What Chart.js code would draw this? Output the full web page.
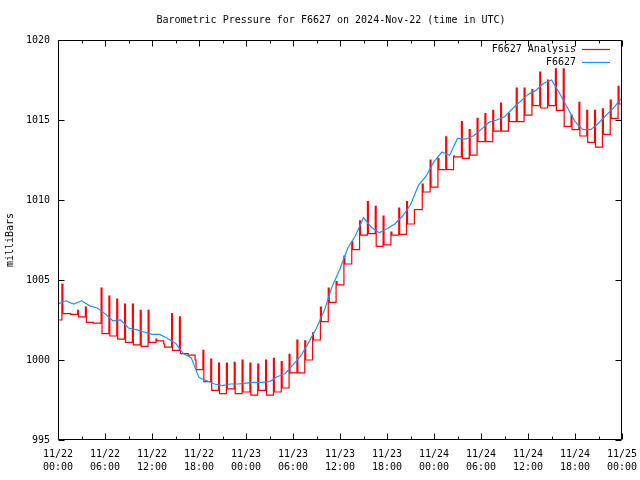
<!DOCTYPE html>
<html>
<head>
<meta charset="utf-8">
<script src="https://cdn.jsdelivr.net/npm/chart.js@4.4.1/dist/chart.umd.min.js"></script>
<style>
  html, body { margin: 0; padding: 0; background: #fff; }
  #wrap { width: 640px; height: 480px; }
</style>
</head>
<body>
<div id="wrap"><canvas id="pressureChart" width="640" height="480"></canvas></div>
<script>
// Station readings, one per hour from 11/22 00:00 to 11/25 00:00 (mb)
const stationHourly = [
  1003.5, 1003.7, 1003.5, 1003.7, 1003.4, 1003.25, 1002.9, 1002.45, 1002.5, 1002.0,
  1001.9, 1001.75, 1001.6, 1001.6, 1001.35, 1001.05, 1000.4, 1000.15, 998.9, 998.7,
  998.5, 998.4, 998.5, 998.5, 998.55, 998.6, 998.6, 998.65, 998.95, 999.15,
  999.7, 1000.25, 1001.1, 1002.0, 1003.1, 1004.6, 1005.7, 1007.0, 1007.8, 1008.9,
  1008.3, 1007.95, 1008.2, 1008.5, 1009.0, 1009.7, 1010.9, 1011.5, 1012.4, 1013.0,
  1012.8, 1013.85, 1013.8, 1014.0, 1014.4, 1014.85, 1015.0, 1015.2, 1015.7, 1016.15,
  1016.6, 1016.85, 1017.3, 1017.5, 1016.7, 1015.8, 1014.9, 1014.4, 1014.4, 1014.8,
  1015.3, 1015.8, 1016.4
];

// Analysis: value it jumps to at half past each hour, then where it settles
const analysisStart = 1002.5;
const analysisPeak = [
  1004.75, 1002.9, 1003.1, 1003.3, 1002.3, 1004.5, 1004.0, 1003.8, 1003.5, 1003.5,
  1003.1, 1003.1, 1001.3, 1001.0, 1002.9, 1002.7, 1000.4, 1000.0, 1000.6, 1000.05,
  999.8, 999.8, 999.85, 1000.0, 999.8, 999.75, 1000.0, 1000.1, 999.9, 1000.35,
  1001.25, 1001.2, 1001.7, 1003.3, 1004.5, 1004.9, 1006.5, 1007.4, 1008.7, 1009.9,
  1009.6, 1009.0, 1008.0, 1009.5, 1009.9, 1009.4, 1011.0, 1012.5, 1012.6, 1013.95,
  1012.75, 1014.9, 1014.4, 1015.1, 1015.4, 1015.6, 1016.05, 1015.4, 1017.0, 1017.0,
  1016.9, 1018.0, 1017.5, 1018.2, 1018.2, 1015.3, 1016.1, 1015.6, 1015.6, 1015.7,
  1016.25, 1017.1
];
const analysisLow = [
  1002.9, 1002.85, 1002.7, 1002.35, 1002.3, 1001.65, 1001.5, 1001.3, 1001.1, 1000.95,
  1000.85, 1001.1, 1001.2, 1000.8, 1000.6, 1000.4, 1000.3, 999.4, 998.65, 998.1,
  997.9, 998.2, 997.9, 998.0, 997.8, 998.1, 997.8, 998.0, 998.25, 999.2,
  999.2, 1000.0, 1001.25, 1002.4, 1003.6, 1004.7, 1006.0, 1006.9, 1007.8, 1007.9,
  1007.1, 1007.2, 1007.8, 1007.85, 1008.5, 1009.4, 1010.5, 1010.8, 1011.9, 1011.9,
  1012.7, 1012.6, 1012.8, 1013.65, 1013.65, 1014.3, 1014.3, 1014.9, 1014.9, 1015.3,
  1015.9, 1015.75, 1015.9, 1015.6, 1014.6, 1014.4, 1014.0, 1013.6, 1013.3, 1014.1,
  1015.1, 1016.0
];
const analysisEnd = 1016.0;

// Tick labels for the time axis (every 6 hours) and the pressure axis
const tickDates = ['11/22', '11/22', '11/22', '11/22', '11/23', '11/23', '11/23',
                   '11/23', '11/24', '11/24', '11/24', '11/24', '11/25'];
const tickTimes = ['00:00', '06:00', '12:00', '18:00', '00:00', '06:00', '12:00',
                   '18:00', '00:00', '06:00', '12:00', '18:00', '00:00'];
const pressureTicks = [995, 1000, 1005, 1010, 1015, 1020];

const MONO = '"DejaVu Sans Mono", "Liberation Mono", monospace';

// Build point lists (x = hours since 11/22 00:00)
const stationPoints = stationHourly.map((v, i) => ({ x: i, y: v }));
const analysisPoints = [{ x: 0, y: analysisStart }];
analysisPeak.forEach((p, h) => {
  analysisPoints.push({ x: h + 0.5, y: p });
  analysisPoints.push({ x: h + 0.62, y: analysisLow[h] });
});
analysisPoints.push({ x: 72, y: analysisEnd });

// Frame, inward tick marks, title and legend (gnuplot style)
const framePlugin = {
  id: 'frame',
  afterDatasetsDraw(chart) {
    const ctx = chart.ctx;
    const area = chart.chartArea;
    const xs = chart.scales.x;
    const ys = chart.scales.y;
    const L = Math.round(area.left) + 0.5, R = Math.round(area.right) - 0.5;
    const T = Math.round(area.top) + 0.5, B = Math.round(area.bottom) - 0.5;
    ctx.save();
    ctx.strokeStyle = '#000';
    ctx.lineWidth = 1;
    ctx.beginPath();
    ctx.rect(L, T, R - L, B - T);
    // pressure ticks, left and right
    pressureTicks.forEach(v => {
      const y = Math.round(ys.getPixelForValue(v)) + 0.5;
      ctx.moveTo(L, y); ctx.lineTo(L + 6, y);
      ctx.moveTo(R, y); ctx.lineTo(R - 6, y);
    });
    // time ticks every 3 hours, longer on the 6-hourly ones
    for (let h = 0; h <= 72; h += 3) {
      const x = Math.round(xs.getPixelForValue(h)) + 0.5;
      const len = h % 6 === 0 ? 6 : 3;
      ctx.moveTo(x, B); ctx.lineTo(x, B - len);
      ctx.moveTo(x, T); ctx.lineTo(x, T + len);
    }
    ctx.stroke();

    // title
    ctx.fillStyle = '#000';
    ctx.font = '10px ' + MONO;
    ctx.textAlign = 'center';
    ctx.textBaseline = 'middle';
    ctx.fillText('Barometric Pressure for F6627 on 2024-Nov-22 (time in UTC)', 331, 20);

    // legend
    const entries = [
      { text: 'F6627 Analysis', color: '#ff0000', y: 49 },
      { text: 'F6627', color: '#1e90ff', y: 62 }
    ];
    ctx.textAlign = 'right';
    entries.forEach(e => {
      ctx.fillStyle = '#000';
      ctx.fillText(e.text, 576, e.y);
      ctx.beginPath();
      ctx.strokeStyle = e.color;
      ctx.lineWidth = 1.2;
      ctx.moveTo(582, e.y + 0.5);
      ctx.lineTo(610, e.y + 0.5);
      ctx.stroke();
    });
    ctx.restore();
  }
};

new Chart(document.getElementById('pressureChart'), {
  type: 'line',
  plugins: [framePlugin],
  data: {
    datasets: [
      {
        label: 'F6627',
        data: stationPoints,
        borderColor: '#1e90ff',
        borderWidth: 1.2,
        pointRadius: 0,
        tension: 0
      },
      {
        label: 'F6627 Analysis',
        data: analysisPoints,
        borderColor: '#ff0000',
        borderWidth: 1.2,
        pointRadius: 0,
        stepped: true
      }
    ]
  },
  options: {
    responsive: false,
    animation: false,
    layout: { padding: { top: 40, right: 18, left: 0, bottom: 0 } },
    plugins: {
      legend: { display: false },
      title: { display: false },
      tooltip: { enabled: false }
    },
    scales: {
      x: {
        type: 'linear',
        min: 0,
        max: 72,
        afterFit: s => { s.height = 40; s.paddingLeft = 0; s.paddingRight = 0; },
        afterBuildTicks: s => { s.ticks = tickDates.map((d, i) => ({ value: i * 6 })); },
        grid: { display: false, drawTicks: false },
        border: { display: false },
        ticks: {
          padding: 8,
          maxRotation: 0,
          autoSkip: false,
          color: '#000',
          font: { family: MONO, size: 10, lineHeight: 1.3 },
          callback: (v) => [tickDates[v / 6], tickTimes[v / 6]]
        }
      },
      y: {
        min: 995,
        max: 1020,
        afterFit: s => { s.width = 58; s.paddingTop = 0; s.paddingBottom = 0; },
        afterBuildTicks: s => { s.ticks = pressureTicks.map(v => ({ value: v })); },
        grid: { display: false, drawTicks: false },
        border: { display: false },
        ticks: {
          padding: 8,
          color: '#000',
          font: { family: MONO, size: 10 },
          callback: (v) => String(v)
        },
        title: {
          display: true,
          text: 'milliBars',
          color: '#000',
          font: { family: MONO, size: 10 }
        }
      }
    }
  }
});
</script>
</body>
</html>
